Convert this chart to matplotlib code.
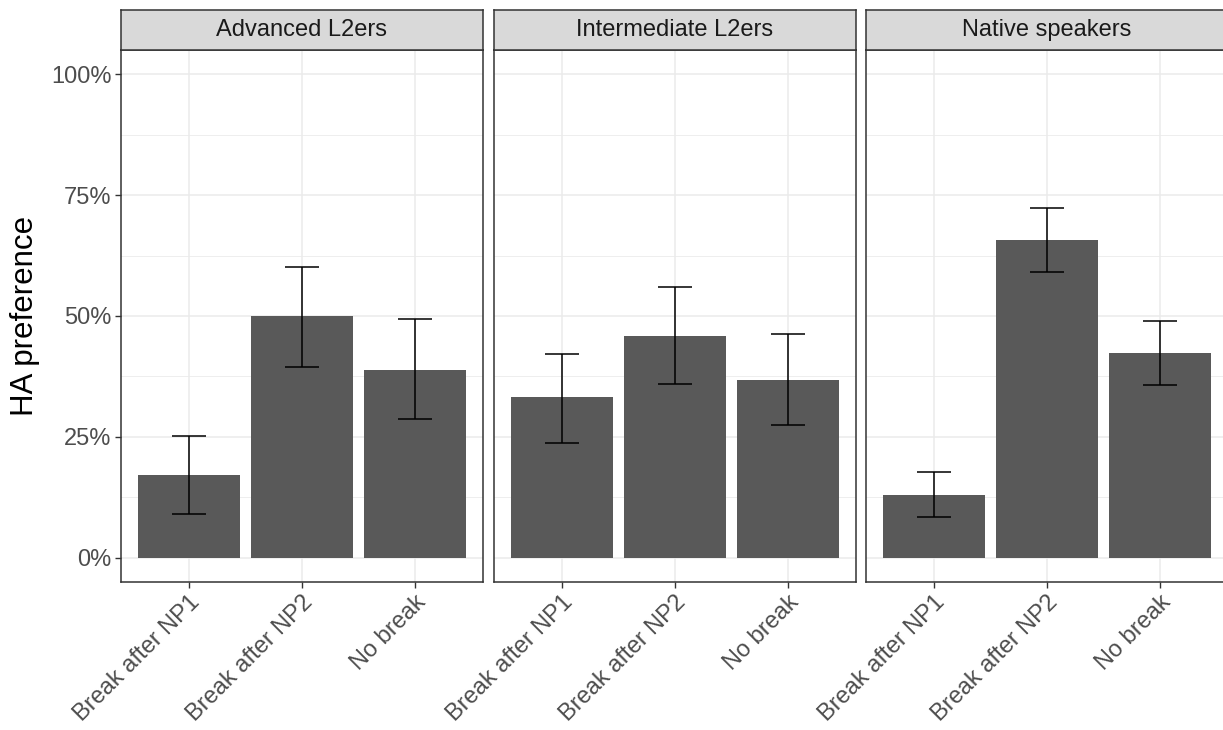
import matplotlib.pyplot as plt
from matplotlib.ticker import FixedLocator, FuncFormatter

plt.rcParams['font.family'] = ['Liberation Sans', 'DejaVu Sans']

groups = ['Advanced L2ers', 'Intermediate L2ers', 'Native speakers']
conditions = ['Break after NP1', 'Break after NP2', 'No break']

# HA preference (proportion) per group, with error bar limits
means = [
    [0.172, 0.500, 0.389],
    [0.332, 0.459, 0.368],
    [0.130, 0.658, 0.423],
]
err_low = [
    [0.090, 0.394, 0.286],
    [0.237, 0.360, 0.274],
    [0.084, 0.592, 0.357],
]
err_high = [
    [0.251, 0.601, 0.493],
    [0.422, 0.559, 0.462],
    [0.178, 0.723, 0.490],
]

W, H = 1223, 730
fig = plt.figure(figsize=(W / 100, H / 100), dpi=100)

panel_lefts = [121, 494, 866]
panel_w = 362
panel_top, panel_bottom = 50, 582
strip_top = 10

x = [1, 2, 3]
for i, g in enumerate(groups):
    left = panel_lefts[i] / W
    ax = fig.add_axes([left, 1 - panel_bottom / H, panel_w / W, (panel_bottom - panel_top) / H])
    ax.set_xlim(0.4, 3.6)
    ax.set_ylim(-0.05, 1.05)

    ax.yaxis.set_major_locator(FixedLocator([0, 0.25, 0.5, 0.75, 1.0]))
    ax.yaxis.set_minor_locator(FixedLocator([0.125, 0.375, 0.625, 0.875]))
    ax.yaxis.set_major_formatter(FuncFormatter(lambda v, p: f"{v * 100:.0f}%"))
    ax.set_xticks(x)
    ax.set_xticklabels(conditions, rotation=45, ha='right', va='top',
                       rotation_mode='anchor', fontsize=17, color='#4d4d4d')

    ax.grid(True, which='major', color='#ebebeb', linewidth=1.1, zorder=0)
    ax.grid(True, which='minor', axis='y', color='#ebebeb', linewidth=0.6, zorder=0)
    ax.set_axisbelow(True)

    ax.bar(x, means[i], width=0.9, color='#595959', zorder=2)
    yerr = [[m - lo for m, lo in zip(means[i], err_low[i])],
            [hi - m for m, hi in zip(means[i], err_high[i])]]
    ax.errorbar(x, means[i], yerr=yerr, fmt='none', ecolor='black',
                elinewidth=1.1, capsize=12.5, capthick=1.1, zorder=3)

    for s in ax.spines.values():
        s.set_color('#333333')
        s.set_linewidth(1.1)

    ax.tick_params(axis='both', which='major', length=4, width=1, color='#333333',
                   labelsize=17, labelcolor='#4d4d4d', pad=3)
    ax.tick_params(axis='y', which='minor', length=0)
    if i == 0:
        ax.set_ylabel('HA preference', fontsize=22.5, color='black', labelpad=8)
    else:
        ax.tick_params(axis='y', which='both', left=False, labelleft=False)

    # facet strip
    sax = fig.add_axes([left, 1 - panel_top / H, panel_w / W, (panel_top - strip_top) / H])
    sax.set_facecolor('#d9d9d9')
    sax.set_xticks([])
    sax.set_yticks([])
    for s in sax.spines.values():
        s.set_color('#333333')
        s.set_linewidth(1.1)
    sax.text(0.5, 0.5, g, ha='center', va='center', fontsize=17,
             color='#1a1a1a', transform=sax.transAxes)

fig.savefig('out.png', dpi=100)
